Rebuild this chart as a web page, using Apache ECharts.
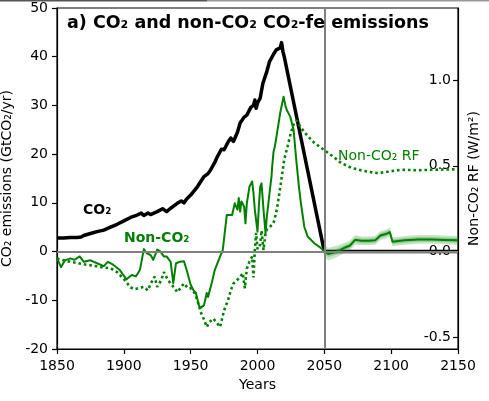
<!DOCTYPE html>
<html>
<head>
<meta charset="utf-8">
<script src="https://cdn.jsdelivr.net/npm/echarts@6/dist/echarts.min.js"></script>
<style>
html,body{margin:0;padding:0;background:#fff;}
#chart{width:489px;height:401px;}
</style>
</head>
<body>
<div id="chart"></div>
<script>
// ---------- data ----------
const co2Years = [1850,1855,1860,1865,1868,1870,1875,1880,1885,1890,1895,1900,1905,1910,1913,1915,1918,1920,1925,1929,1932,1935,1940,1943,1945,1947,1950,1955,1960,1963,1965,1968,1970,1973,1975,1978,1980,1982,1985,1987,1990,1992,1995,1997,1998,1999,2000,2002,2004,2007,2009,2010,2012,2014,2017,2018,2019,2020,2050,2150];
const co2Values = [2.8,2.8,2.9,2.9,3.0,3.3,3.7,4.1,4.4,5.0,5.6,6.3,7.0,7.5,7.9,7.4,7.9,7.6,8.2,8.8,8.2,8.9,9.9,10.4,10.0,10.8,11.6,13.3,15.4,16.0,16.8,18.3,19.5,21.0,20.9,22.5,23.3,22.6,24.5,26.4,27.6,28.0,29.6,30.0,31.1,29.4,30.5,31.5,34.5,37.0,39.0,38.6,40.5,41.4,41.8,42.9,41.1,40.0,0,0];

const nonCo2Years = [1850,1853,1856,1860,1863,1867,1870,1875,1880,1885,1888,1892,1897,1902,1906,1909,1912,1915,1917,1920,1922,1925,1927,1930,1932,1935,1937,1939,1942,1945,1947,1950,1952,1954,1956,1957,1960,1962,1963,1966,1968,1971,1974,1977,1978,1981,1983,1985,1986,1987,1988,1990,1991,1992,1994,1996,1997,1998,2000,2001,2002,2003,2004.5,2006,2007,2009,2010.5,2011,2012,2013,2015,2017,2019.5,2021,2022,2024.5,2027,2029,2031,2032.5,2035,2037.5,2042.5,2047.5,2050,2053,2058,2062,2066,2069,2073,2078,2083,2088,2092,2096,2099,2101,2110,2120,2130,2140,2150];
const nonCo2Values = [-1.4,-3.2,-1.8,-1.4,-1.7,-1.0,-2.1,-1.8,-2.4,-3.0,-2.1,-2.7,-3.8,-5.7,-4.8,-5.1,-3.8,0.5,-0.3,-0.7,-1.7,0.4,0.1,-1.0,-1.0,-2.1,-6.5,-2.4,-2.1,-2.0,-3.8,-6.8,-7.9,-8.5,-10.9,-11.6,-11.0,-8.5,-9.3,-6.2,-3.8,-1.7,0.3,7.5,7.9,7.5,9.9,8.6,11.0,8.2,10.3,9.2,5.8,9.9,13.3,14.4,12.0,8.6,4.1,9.2,13.3,14.0,8.6,3.8,7.2,12.0,15.5,17.5,20.5,21.6,25.0,28.5,31.8,29.8,29.0,27.7,25.0,18.8,13.3,9.9,5.1,3.1,1.7,0.7,0.0,-0.5,-0.1,0.35,0.9,1.2,2.4,2.2,2.2,2.3,3.3,3.6,4.0,2.0,2.3,2.5,2.5,2.4,2.3];

const rfYears = [1850,1855,1860,1865,1870,1875,1880,1885,1890,1895,1900,1905,1908,1912,1915,1918,1920,1923,1925,1928,1930,1933,1935,1938,1940,1943,1945,1948,1950,1953,1955,1958,1960,1962,1964,1967,1970,1972,1975,1978,1980,1982,1986,1989,1990.5,1992,1994,1996,1997,1998,1999,2000,2002,2003,2004.5,2006,2007,2009.5,2012,2014.5,2016,2017.5,2020,2022.5,2025,2027.5,2029.5,2032.5,2037.5,2042.5,2047.5,2052.5,2057.5,2062.5,2070,2077.5,2085,2090,2097.5,2107.5,2120,2130,2150];
const rfValues = [-0.040,-0.051,-0.060,-0.066,-0.074,-0.080,-0.086,-0.094,-0.097,-0.120,-0.160,-0.209,-0.220,-0.211,-0.206,-0.226,-0.189,-0.146,-0.206,-0.166,-0.120,-0.166,-0.186,-0.214,-0.237,-0.206,-0.186,-0.214,-0.214,-0.243,-0.283,-0.363,-0.397,-0.440,-0.411,-0.391,-0.420,-0.440,-0.343,-0.283,-0.226,-0.186,-0.157,-0.126,-0.214,-0.100,-0.057,-0.029,-0.151,0.009,0.109,0.014,0.040,0.123,0.009,0.109,0.129,0.146,0.166,0.246,0.323,0.400,0.537,0.614,0.694,0.754,0.763,0.723,0.674,0.634,0.606,0.577,0.549,0.517,0.489,0.474,0.463,0.457,0.466,0.477,0.474,0.477,0.480];

const bandYears = [2050,2053,2058,2062,2066,2069,2073,2078,2083,2088,2092,2096,2099,2101,2110,2120,2130,2140,2150];
const outerLow  = [-1.3,-1.8,-1.3,-0.75,-0.1,0.2,1.4,1.3,1.3,1.4,2.4,2.7,3.1,1.1,1.4,1.6,1.6,1.5,1.4];
const outerHigh = [1.3,0.8,1.1,1.45,1.9,2.2,3.4,3.1,3.1,3.2,4.2,4.5,4.9,2.9,3.2,3.4,3.4,3.3,3.2];
const innerLow  = [-0.6,-1.1,-0.7,-0.2,0.4,0.7,1.9,1.7,1.7,1.8,2.8,3.1,3.5,1.5,1.8,2.0,2.0,1.9,1.8];
const innerHigh = [0.6,0.1,0.5,0.9,1.4,1.7,2.9,2.7,2.7,2.8,3.8,4.1,4.5,2.5,2.8,3.0,3.0,2.9,2.8];

const xMin = 1850, xMax = 2150, xStep = 50;
const yMin = -20, yMax = 50, yStep = 10;
const rfScale = 35.2;               // GtCO2/yr per W/m2 on the twin axis
const rfTicks = [-0.5, 0.0, 0.5, 1.0];
const netZeroYear = 2050;

// ---------- build ----------
const zip = (xs, ys) => xs.map((x, i) => [x, ys[i]]);

const FONT = 'DejaVu Sans';
const GREEN = '#008000';

function bandSeries(name, lows, highs, color) {
  return {
    name: name, type: 'custom', z: 3, silent: true,
    data: [[bandYears[0], lows[0]]],
    renderItem: function (params, api) {
      const upper = bandYears.map((yr, i) => api.coord([yr, highs[i]]));
      const lower = bandYears.map((yr, i) => api.coord([yr, lows[i]])).reverse();
      return {type: 'polygon', shape: {points: upper.concat(lower)}, style: {fill: color}};
    }
  };
}

const chart = echarts.init(document.getElementById('chart'), null, {renderer: 'canvas'});

const option = {
  animation: false,
  backgroundColor: '#ffffff',
  grid: {left: 57, right: 31, top: 8, bottom: 52, show: true, borderColor: '#000', borderWidth: 1.2,
    backgroundColor: 'transparent', containLabel: false, outerBoundsMode: 'none'},
  xAxis: {
    type: 'value', min: xMin, max: xMax, interval: xStep,
    name: 'Years', nameLocation: 'middle', nameGap: 26,
    nameTextStyle: {fontFamily: FONT, fontSize: 14, color: '#000'},
    axisLine: {show: true, onZero: false, lineStyle: {color: '#000', width: 1.2}},
    axisTick: {show: true, length: 5, lineStyle: {color: '#000', width: 1.2}},
    axisLabel: {fontFamily: FONT, fontSize: 14, color: '#000', margin: 10, formatter: v => String(v)},
    splitLine: {show: false}
  },
  yAxis: [{
    type: 'value', min: yMin, max: yMax, interval: yStep, position: 'left',
    name: 'CO₂ emissions (GtCO₂/yr)', nameLocation: 'middle', nameGap: 41, nameRotate: 90,
    nameTextStyle: {fontFamily: FONT, fontSize: 14, color: '#000'},
    axisLine: {show: true, onZero: false, lineStyle: {color: '#000', width: 1.2}},
    axisTick: {show: true, length: 5, lineStyle: {color: '#000', width: 1.2}},
    axisLabel: {fontFamily: FONT, fontSize: 14, color: '#000', margin: 9},
    splitLine: {show: false}
  }, {
    type: 'value', min: yMin / rfScale, max: yMax / rfScale, position: 'right',
    name: 'Non-CO₂ RF (W/m²)', nameLocation: 'middle', nameGap: 2, nameRotate: 90,
    nameTextStyle: {fontFamily: FONT, fontSize: 14, color: '#000'},
    axisLine: {show: true, onZero: false, lineStyle: {color: '#000', width: 1.2}},
    axisTick: {show: true, inside: true, length: 5, customValues: rfTicks, lineStyle: {color: '#000', width: 1.2}},
    axisLabel: {inside: true, fontFamily: FONT, fontSize: 14, color: '#000', margin: 7,
      customValues: rfTicks, formatter: v => v.toFixed(1)},
    splitLine: {show: false}
  }],
  series: [
    {
      name: 'refs', type: 'line', data: [], z: 1, silent: true,
      markLine: {
        silent: true, symbol: 'none', label: {show: false},
        lineStyle: {color: '#808080', width: 2, type: 'solid'},
        data: [{yAxis: 0}, {xAxis: netZeroYear}]
      }
    },
    {
      name: 'CO2', type: 'line', data: zip(co2Years, co2Values), z: 2,
      showSymbol: false, lineStyle: {color: '#000', width: 3.5, join: 'round'}
    },
    bandSeries('outerBand', outerLow, outerHigh, 'rgba(0,128,0,0.22)'),
    bandSeries('innerBand', innerLow, innerHigh, 'rgba(0,128,0,0.25)'),
    {
      name: 'nonCO2', type: 'line', data: zip(nonCo2Years, nonCo2Values), z: 4,
      showSymbol: false, lineStyle: {color: GREEN, width: 2, join: 'round'}
    },
    {
      name: 'nonCO2RF', type: 'line', yAxisIndex: 1, data: zip(rfYears, rfValues), z: 4,
      showSymbol: false, lineStyle: {color: GREEN, width: 2.6, type: [2.6, 2.9], cap: 'butt'}
    }
  ],
  graphic: [
    {type: 'rect', shape: {x: 0, y: 0, width: 207, height: 1.5}, style: {fill: '#555'}, z: 100, silent: true},
    {type: 'rect', shape: {x: 207, y: 0, width: 282, height: 1.5}, style: {fill: '#999'}, z: 100, silent: true},
    {type: 'text', left: 67, top: 14, z: 50, style: {text: 'a) CO₂ and non-CO₂ CO₂-fe emissions', font: 'bold 17.5px "DejaVu Sans"', fill: '#000'}},
    {type: 'text', left: 83, top: 203, z: 50, style: {text: 'CO₂', font: 'bold 14px "DejaVu Sans"', fill: '#000'}},
    {type: 'text', left: 124, top: 231, z: 50, style: {text: 'Non-CO₂', font: 'bold 14px "DejaVu Sans"', fill: GREEN}},
    {type: 'text', left: 338, top: 149, z: 50, style: {text: 'Non-CO₂ RF', font: '14px "DejaVu Sans"', fill: GREEN}}
  ]
};
chart.setOption(option);
</script>
</body>
</html>
